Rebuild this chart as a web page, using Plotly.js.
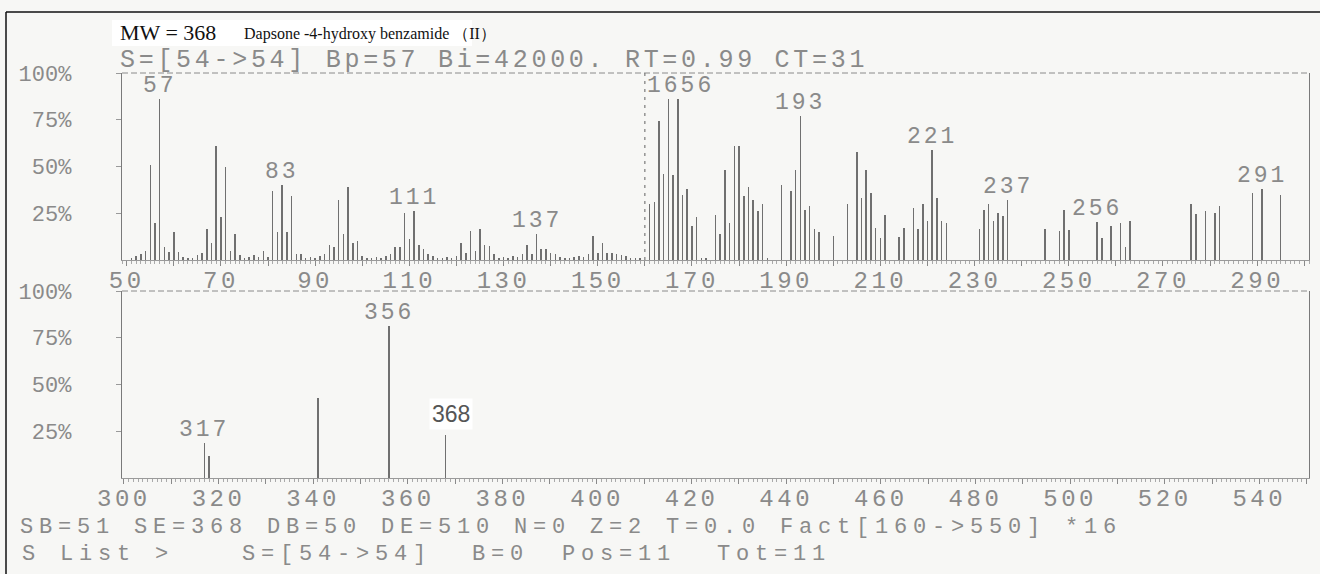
<!DOCTYPE html>
<html>
<head>
<meta charset="utf-8">
<script src="https://cdn.plot.ly/plotly-3.0.1.min.js"></script>
<style>
  html, body { margin: 0; padding: 0; background: #f7f7f5; }
  #chart { width: 1320px; height: 574px; }
  #chart .xtick text, #chart .x2tick text { letter-spacing: 3.5px; }
</style>
</head>
<body>
<div id="chart"></div>
<script>
// ---- Data (m/z and relative intensity %) ----
const topMz = [51,52,53,54,55,56,57,58,59,60,61,62,63,64,65,66,67,68,69,70,71,72,73,74,75,76,77,78,79,80,
  81,82,83,84,85,86,87,88,89,90,91,92,93,94,95,96,97,98,99,100,101,102,103,104,105,106,107,108,109,110,
  111,112,113,114,115,116,117,118,119,120,121,122,123,124,125,126,127,128,129,130,131,132,133,134,135,136,137,138,139,140,
  141,142,143,144,145,146,147,148,149,150,151,152,153,154,155,156,157,158,159,
  161,162,163,164,165,166,167,168,169,170,171,172,173,175,176,177,178,179,180,181,182,183,184,185,186,
  189,191,192,193,194,195,196,197,200,203,205,206,207,208,209,210,211,214,215,217,218,219,220,221,222,223,224,
  231,232,233,234,235,236,237,245,248,249,250,256,257,259,261,262,263,276,277,279,281,282,289,291,295];
const topInt = [1,2,3,5,51,20,86,7,4.5,15,4.5,1.5,1,1,2.5,3.5,16.5,9,61,23,50,5,14,2.5,1,1.5,2.5,1.5,5,1.5,
  37,15,40,15,34,3,3,1,1.5,1,2,3,8,7,32,14,39,9,10,2,1,1,1.5,1,2,3,7,7,25,11,
  26,8,6,3,2,1,1,1.5,1,2,9,4,15.5,5,16.5,8,7.5,3,1,1.5,1,2,1.5,3,8,3,14,6,6,4,
  3,1.5,1,1,1.5,2,1.5,3,13,4,9,3.5,4,3,2.5,2,1,1,1,
  30,31,74.5,46,86,45.5,86,35,38,18,23,1,1,24,14,48,20,61,61,34,39,32,26,30,1,
  40,37,48,77,27,29,16.5,15,13,30,58,33,48,36,17,12,24,12.5,17,28,16.5,30,21,59,33,21,19.6,
  16.5,27,30,21,25,23.5,32,16.5,15.7,26.5,16,20.5,12,18,20,7,21,30,24.6,26,25,29,35.6,38,35];

const botMz  = [317, 318, 341, 356, 368];
const botInt = [18.7, 12, 42.7, 81.5, 23];

const topLabelText = ['57','83','111','137','1656','193','221','237','256','291'];
const topLabelMz   = [57, 83, 111, 137, 167.5, 193, 221, 237, 256, 291];
const topLabelInt  = [86, 40, 26, 14, 86, 77, 59, 32, 20.5, 38];

const botLabelText = ['317','356'];
const botLabelMz   = [317, 356];
const botLabelInt  = [18.7, 81.5];
const mwLabelText = '368';
const mwLabelMz = 368;
const mwLabelInt = 23;

const factStart = 160;

const topTickVals = [50,60,70,80,90,100,110,120,130,140,150,160,170,180,190,200,210,220,230,240,250,260,270,280,290,300];
const topTickText = ['50','','70','','90','','110','','130','','150','','170','','190','','210','','230','','250','','270','','290',''];
const botTickVals = [300,310,320,330,340,350,360,370,380,390,400,410,420,430,440,450,460,470,480,490,500,510,520,530,540,550];
const botTickText = ['300','','320','','340','','360','','380','','400','','420','','440','','460','','480','','500','','520','','540',''];
const yTickVals = [25, 50, 75, 100];
const yTickText = ['25%','50%','75%','100%'];

const titleMW = 'MW = 368';
const titleName = 'Dapsone -4-hydroxy benzamide （II）';
const headerText = 'S=[54->54] Bp=57 Bi=42000. RT=0.99 CT=31';
const footer1 = 'SB=51 SE=368 DB=50 DE=510 N=0 Z=2 T=0.0 Fact[160->550] *16';
const footer2Parts = ['S List >', 'S=[54->54]', 'B=0', 'Pos=11', 'Tot=11'];
const footer2X = [20, 240, 470, 560, 715];

// ---- Styling ----
const W = 1320, H = 574;
const px = v => v / W;
const py = v => 1 - v / H;
const gray = '#707070';
const txtGray = '#8a8a8a';
const mono = 'Liberation Mono, DejaVu Sans Mono, monospace';
const spaced = (t, s) => '<span style="letter-spacing:' + s + 'px">' + t + '</span>';

const barTop = {
  type: 'bar', x: topMz, y: topInt, width: 0.32,
  marker: { color: gray, line: { width: 0 } },
  xaxis: 'x', yaxis: 'y', hoverinfo: 'x+y', showlegend: false
};
const barBot = {
  type: 'bar', x: botMz, y: botInt, width: 0.32,
  marker: { color: gray, line: { width: 0 } },
  xaxis: 'x2', yaxis: 'y2', hoverinfo: 'x+y', showlegend: false
};

function xAxis(domainY, vals, text, range) {
  return {
    domain: [px(122), px(1309)], range: range, anchor: domainY,
    showgrid: false, zeroline: false, showline: true, linecolor: '#9a9a9a', linewidth: 1,
    ticks: 'outside', ticklen: 5, tickcolor: '#8a8a8a', tickwidth: 1,
    tickmode: 'array', tickvals: vals, ticktext: text,
    ticklabelstandoff: -7,
    minor: { dtick: 1, ticks: 'outside', ticklen: 3, tickcolor: '#aaaaaa', tickwidth: 1 },
    tickfont: { family: mono, size: 24, color: txtGray }, automargin: false, fixedrange: true
  };
}
function yAxis(domain, anchorX) {
  return {
    domain: domain, range: [0, 100], anchor: anchorX,
    showgrid: false, zeroline: false, showline: true, mirror: true, linecolor: '#7a7a7a', linewidth: 1.2,
    ticks: 'outside', ticklen: 5, tickcolor: '#9a9a9a',
    tickmode: 'array', tickvals: yTickVals, ticktext: yTickText,
    ticklabelstandoff: 40,
    tickfont: { family: mono, size: 22, color: txtGray }, automargin: false, fixedrange: true
  };
}

const annotations = [];
topLabelText.forEach((t, i) => annotations.push({
  xref: 'x', yref: 'y', x: topLabelMz[i], y: topLabelInt[i], text: spaced(t, 3), showarrow: false,
  xanchor: 'center', yanchor: 'middle', yshift: 13,
  font: { family: mono, size: 23, color: txtGray }
}));
botLabelText.forEach((t, i) => annotations.push({
  xref: 'x2', yref: 'y2', x: botLabelMz[i], y: botLabelInt[i], text: spaced(t, 3), showarrow: false,
  xanchor: 'center', yanchor: 'middle', yshift: 13,
  font: { family: mono, size: 23, color: txtGray }
}));
annotations.push({
  xref: 'x2', yref: 'y2', x: mwLabelMz, y: mwLabelInt, text: mwLabelText, showarrow: false,
  xanchor: 'center', yanchor: 'middle', yshift: 21, xshift: 5,
  bgcolor: '#ffffff', borderpad: 2,
  font: { family: 'Liberation Sans, Arial, sans-serif', size: 23, color: '#555555' }
});
annotations.push({
  xref: 'paper', yref: 'paper', x: px(118), y: py(33), text: titleMW, showarrow: false,
  xanchor: 'left', yanchor: 'middle',
  font: { family: 'Liberation Serif, Times New Roman, serif', size: 22, color: '#111111' }
});
annotations.push({
  xref: 'paper', yref: 'paper', x: px(242), y: py(34), text: titleName, showarrow: false,
  xanchor: 'left', yanchor: 'middle',
  font: { family: 'Liberation Serif, Times New Roman, serif', size: 16, color: '#111111' }
});
annotations.push({
  xref: 'paper', yref: 'paper', x: px(118), y: py(60), text: spaced(headerText, 3.7), showarrow: false,
  xanchor: 'left', yanchor: 'middle',
  font: { family: mono, size: 25, color: txtGray }
});
annotations.push({
  xref: 'paper', yref: 'paper', x: px(18), y: py(527), text: spaced(footer1, 5.8), showarrow: false,
  xanchor: 'left', yanchor: 'middle',
  font: { family: mono, size: 22, color: txtGray }
});
footer2Parts.forEach((t, i) => annotations.push({
  xref: 'paper', yref: 'paper', x: px(footer2X[i]), y: py(554), text: spaced(t, 5.8), showarrow: false,
  xanchor: 'left', yanchor: 'middle',
  font: { family: mono, size: 22, color: txtGray }
}));

const shapes = [
  { type: 'rect', xref: 'paper', yref: 'paper', x0: px(112), x1: px(472), y0: py(46), y1: py(20),
    fillcolor: '#ffffff', line: { width: 0 }, layer: 'below' },
  { type: 'line', xref: 'x domain', yref: 'y domain', x0: 0, x1: 1, y0: 1, y1: 1,
    line: { color: '#8a8a8a', width: 1, dash: '6px,3px' } },
  { type: 'line', xref: 'x2 domain', yref: 'y2 domain', x0: 0, x1: 1, y0: 1, y1: 1,
    line: { color: '#8a8a8a', width: 1, dash: '6px,3px' } },
  { type: 'line', xref: 'x', yref: 'y domain', x0: factStart, x1: factStart, y0: 0, y1: 1,
    line: { color: '#7a7a7a', width: 1.2, dash: '3px,5px' } },
  { type: 'line', xref: 'paper', yref: 'paper', x0: px(6), x1: 1, y0: py(12), y1: py(12),
    line: { color: '#111111', width: 1.5 } },
  { type: 'line', xref: 'paper', yref: 'paper', x0: px(6), x1: px(6), y0: py(12), y1: 0,
    line: { color: '#111111', width: 1.5 } }
];

const layout = {
  width: W, height: H,
  margin: { l: 0, r: 0, t: 0, b: 0, pad: 0 },
  paper_bgcolor: '#f7f7f5', plot_bgcolor: '#f7f7f5',
  showlegend: false, bargap: 0,
  xaxis: xAxis('y', topTickVals, topTickText, [49, 301]),
  yaxis: yAxis([py(260), py(73)], 'x'),
  xaxis2: xAxis('y2', botTickVals, botTickText, [299.6, 550.5]),
  yaxis2: yAxis([py(478), py(291)], 'x2'),
  annotations: annotations,
  shapes: shapes
};

Plotly.newPlot('chart', [barTop, barBot], layout, { displayModeBar: false, staticPlot: true });
</script>
</body>
</html>
